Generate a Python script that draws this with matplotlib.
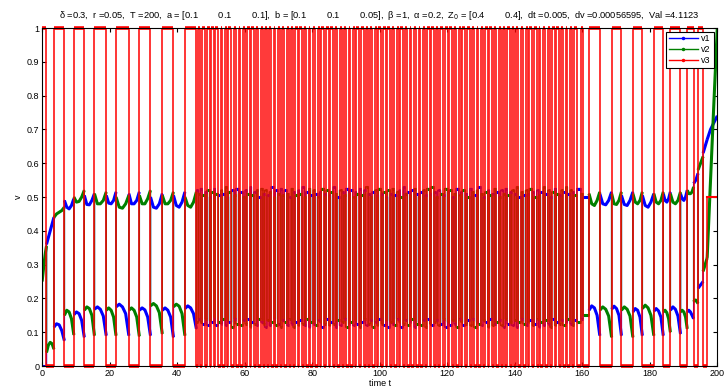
import numpy as np
import matplotlib
matplotlib.use("Agg")
import matplotlib.pyplot as plt
from matplotlib.lines import Line2D

plt.rcParams['font.family'] = ['Liberation Sans', 'DejaVu Sans']

######################## data ########################
# v3 = 1 on these time intervals, 0 in between
v3_on_early = [(0.0, 1.3), (3.5, 6.6), (9.4, 12.5), (15.5, 19.0), (21.9, 25.7),
               (28.8, 32.1), (35.6, 38.9), (42.3, 45.7)]
v3_on_fast = [(46.3, 46.9), (47.4, 48.3), (48.8, 49.6), (50.1, 50.9), (51.3, 52.2),
              (52.9, 53.4), (54.3, 54.8), (55.2, 56.1), (56.9, 57.3), (58.2, 58.6),
              (59.5, 60.1), (60.6, 61.6), (62.0, 62.7), (63.5, 63.9), (64.8, 65.4),
              (65.9, 66.6), (67.3, 67.8), (68.7, 69.1), (69.8, 70.6), (71.1, 71.7),
              (72.5, 73.0), (73.8, 74.3), (74.9, 75.8), (76.2, 77.0), (77.7, 78.1),
              (79.0, 79.5), (80.3, 80.8), (81.6, 82.2), (82.7, 83.6), (84.1, 84.9),
              (85.4, 86.2), (86.9, 87.3), (88.1, 88.8), (89.4, 89.9), (90.8, 91.2),
              (92.0, 92.7), (93.1, 94.0), (94.5, 95.3), (95.8, 96.6), (97.2, 97.7),
              (98.5, 99.2), (99.6, 100.5), (101.0, 101.8), (102.3, 103.1), (103.7, 104.2),
              (105.0, 105.7), (106.1, 107.0), (107.5, 108.2), (108.9, 109.3), (110.2, 110.7),
              (111.5, 112.0), (112.8, 113.4), (113.9, 114.8), (115.2, 116.1), (116.7, 117.2),
              (118.0, 118.8), (119.2, 120.1), (120.6, 121.4), (122.0, 122.6), (123.4, 124.0),
              (124.5, 125.4), (125.9, 126.7), (127.3, 127.8), (128.7, 129.2), (130.0, 130.6),
              (131.1, 132.0), (132.5, 133.3), (133.9, 134.4), (135.3, 135.8), (136.6, 137.2),
              (137.7, 138.6), (139.1, 139.9), (140.5, 141.0), (141.9, 142.4), (143.2, 143.8),
              (144.3, 145.2), (145.7, 146.5), (147.1, 147.6), (148.5, 149.0), (149.8, 150.4),
              (150.9, 151.8), (152.3, 153.1), (153.7, 154.2), (155.1, 155.6), (156.4, 157.0),
              (157.5, 158.4), (159.6, 160.2)]
v3_on_late = [(162.0, 165.2), (168.7, 171.6), (175.0, 177.8), (181.2, 184.0),
              (186.1, 189.1), (191.1, 193.0), (194.3, 195.8)]
v3_start = 0.0
t_last_switch = 197.0
v3_final = 0.5
t_max = 200.0

# lower band / upper band values inside each segment between switches
low_early = [[0.0, 0.0, 0.0, 0.0, 0.0],
             [0.04, 0.062, 0.07, 0.066, 0.05],
             [0.115, 0.125, 0.122, 0.105, 0.075],
             [0.15, 0.165, 0.16, 0.14, 0.092],
             [0.152, 0.16, 0.155, 0.135, 0.085],
             [0.165, 0.175, 0.17, 0.15, 0.09],
             [0.168, 0.175, 0.168, 0.148, 0.09],
             [0.165, 0.172, 0.165, 0.145, 0.09],
             [0.175, 0.183, 0.175, 0.155, 0.09],
             [0.165, 0.172, 0.165, 0.145, 0.088],
             [0.165, 0.172, 0.166, 0.145, 0.09],
             [0.178, 0.185, 0.178, 0.158, 0.095],
             [0.165, 0.172, 0.165, 0.145, 0.085],
             [0.175, 0.183, 0.177, 0.155, 0.09],
             [0.17, 0.178, 0.172, 0.155, 0.11]]
high_early = [[0.25, 0.28, 0.31, 0.335, 0.355],
              [0.36, 0.38, 0.40, 0.42, 0.44],
              [0.44, 0.45, 0.455, 0.46, 0.47],
              [0.49, 0.47, 0.465, 0.475, 0.495],
              [0.5, 0.485, 0.487, 0.5, 0.52],
              [0.505, 0.478, 0.477, 0.49, 0.51],
              [0.51, 0.48, 0.48, 0.49, 0.515],
              [0.505, 0.482, 0.48, 0.49, 0.515],
              [0.5, 0.47, 0.467, 0.48, 0.505],
              [0.51, 0.48, 0.48, 0.49, 0.515],
              [0.505, 0.48, 0.48, 0.495, 0.52],
              [0.5, 0.47, 0.467, 0.48, 0.51],
              [0.505, 0.48, 0.48, 0.49, 0.515],
              [0.505, 0.475, 0.47, 0.485, 0.515],
              [0.5, 0.475, 0.47, 0.485, 0.515]]
low_fast = [0.13, 0.14, 0.13, 0.125, 0.14, 0.12, 0.135, 0.13, 0.145, 0.12,
            0.13, 0.125, 0.14, 0.12, 0.135, 0.13, 0.115, 0.14, 0.125, 0.13,
            0.12, 0.135, 0.125, 0.14, 0.115, 0.13, 0.125, 0.12, 0.14, 0.13,
            0.125, 0.115, 0.135, 0.12, 0.13, 0.14, 0.12, 0.125, 0.115, 0.135,
            0.13, 0.12, 0.14, 0.125, 0.115, 0.13, 0.12, 0.135, 0.125, 0.12,
            0.14, 0.115, 0.13, 0.125, 0.12, 0.135, 0.13, 0.115, 0.125, 0.14,
            0.12, 0.13, 0.125, 0.115, 0.135, 0.12, 0.13, 0.14, 0.115, 0.125,
            0.13, 0.12, 0.135, 0.125, 0.115, 0.13, 0.14, 0.12, 0.125, 0.135,
            0.115, 0.13, 0.12, 0.14, 0.125, 0.12, 0.135, 0.115, 0.13, 0.125,
            0.12, 0.14, 0.13, 0.115, 0.125, 0.135, 0.12, 0.13, 0.14, 0.115,
            0.125, 0.13, 0.12, 0.135, 0.115, 0.14, 0.125, 0.12, 0.13, 0.135,
            0.12, 0.125, 0.14, 0.115, 0.13, 0.12, 0.135, 0.125, 0.115, 0.14,
            0.13, 0.12, 0.125, 0.135, 0.12, 0.14, 0.115, 0.13, 0.125, 0.12,
            0.135, 0.13, 0.115, 0.14, 0.12, 0.125, 0.13, 0.135, 0.12, 0.115,
            0.14, 0.125, 0.13, 0.12, 0.135, 0.115, 0.13, 0.14, 0.125, 0.12,
            0.13, 0.135, 0.12, 0.125, 0.14, 0.115, 0.13, 0.12, 0.135, 0.125,
            0.115, 0.14, 0.12, 0.13, 0.125, 0.135, 0.12, 0.13, 0.14, 0.125,
            0.12, 0.135, 0.13, 0.14, 0.15]
high_fast = [0.52, 0.51, 0.525, 0.505, 0.515, 0.52, 0.5, 0.515, 0.525, 0.51,
             0.505, 0.52, 0.51, 0.53, 0.5, 0.515, 0.52, 0.505, 0.525, 0.51,
             0.515, 0.5, 0.52, 0.51, 0.53, 0.505, 0.515, 0.52, 0.5, 0.525,
             0.51, 0.52, 0.505, 0.515, 0.53, 0.5, 0.52, 0.51, 0.525, 0.505,
             0.52, 0.51, 0.5, 0.525, 0.515, 0.505, 0.52, 0.51, 0.53, 0.5,
             0.515, 0.525, 0.505, 0.52, 0.51, 0.5, 0.515, 0.525, 0.51, 0.52,
             0.505, 0.515, 0.53, 0.51, 0.5, 0.52, 0.515, 0.505, 0.525, 0.51,
             0.52, 0.5, 0.515, 0.51, 0.525, 0.505, 0.52, 0.53, 0.51, 0.5,
             0.515, 0.52, 0.505, 0.525, 0.51, 0.515, 0.5, 0.52, 0.51, 0.525,
             0.505, 0.515, 0.52, 0.5, 0.53, 0.51, 0.515, 0.505, 0.52, 0.525,
             0.51, 0.5, 0.515, 0.52, 0.505, 0.525, 0.51, 0.53, 0.515, 0.5,
             0.52, 0.51, 0.505, 0.525, 0.515, 0.52, 0.5, 0.51, 0.525, 0.505,
             0.515, 0.52, 0.51, 0.5, 0.525, 0.515, 0.505, 0.52, 0.53, 0.51,
             0.5, 0.515, 0.52, 0.505, 0.51, 0.525, 0.515, 0.5, 0.52, 0.51,
             0.525, 0.505, 0.515, 0.52, 0.51, 0.53, 0.5, 0.515, 0.505, 0.52,
             0.51, 0.525, 0.515, 0.5, 0.52, 0.505, 0.515, 0.53, 0.51, 0.52,
             0.5, 0.515, 0.525, 0.51, 0.505, 0.52, 0.515, 0.53, 0.51, 0.52,
             0.515, 0.505, 0.525, 0.51, 0.5]
low_late = [[0.165, 0.178, 0.172, 0.15, 0.09],
            [0.165, 0.175, 0.168, 0.148, 0.085],
            [0.168, 0.177, 0.17, 0.15, 0.09],
            [0.165, 0.175, 0.168, 0.148, 0.085],
            [0.16, 0.17, 0.165, 0.145, 0.09],
            [0.17, 0.18, 0.172, 0.15, 0.09],
            [0.162, 0.17, 0.163, 0.145, 0.09],
            [0.16, 0.165, 0.158, 0.14, 0.1],
            [0.165, 0.175, 0.168, 0.148, 0.095],
            [0.16, 0.165, 0.16, 0.145, 0.11],
            [0.16, 0.165, 0.16, 0.15, 0.14],
            [0.19, 0.195, 0.195, 0.19, 0.185],
            [0.23, 0.235, 0.24, 0.245, 0.25],
            [0.28, 0.29, 0.3, 0.31, 0.32]]
high_late = [[0.51, 0.48, 0.475, 0.49, 0.515],
             [0.51, 0.48, 0.477, 0.49, 0.515],
             [0.51, 0.48, 0.478, 0.49, 0.515],
             [0.505, 0.478, 0.475, 0.49, 0.515],
             [0.51, 0.485, 0.48, 0.49, 0.515],
             [0.505, 0.475, 0.47, 0.485, 0.51],
             [0.51, 0.485, 0.48, 0.49, 0.515],
             [0.51, 0.49, 0.485, 0.495, 0.515],
             [0.51, 0.485, 0.48, 0.49, 0.515],
             [0.51, 0.495, 0.49, 0.5, 0.52],
             [0.52, 0.51, 0.51, 0.515, 0.53],
             [0.54, 0.545, 0.55, 0.56, 0.57],
             [0.58, 0.59, 0.6, 0.61, 0.62],
             [0.63, 0.64, 0.65, 0.66, 0.67]]
# last piece after the final switch
v1_final = [0.67, 0.7, 0.72, 0.74]
v2_final = [0.32, 0.55, 0.78, 1.0]

title_txt = ("δ =0.3,  r =0.05,  T =200,  a = [0.1        0.1        0.1],  "
             "b = [0.1        0.1        0.05],  β =1,  α =0.2,  Z$_0$ = [0.4        0.4],  "
             "dt =0.005,  dv =0.00056595,  Val =4.1123")
######################################################


def main():
    on_all = v3_on_early + v3_on_fast + v3_on_late
    bounds = [0.0]
    for a, b in on_all:
        if a > bounds[-1]:
            bounds.append(a)
        bounds.append(b)
    bounds.append(t_last_switch)

    low_vals = low_early + [[v] for v in low_fast] + low_late
    high_vals = high_early + [[v] for v in high_fast] + high_late

    v1_t, v1_v, v2_t, v2_v = [], [], [], []
    v1_segs, v2_segs = [], []
    for k in range(len(bounds) - 1):
        t0, t1 = bounds[k], bounds[k + 1]
        lo, hi = low_vals[k], high_vals[k]
        if len(lo) == 1:
            ts = [t0, t1]
            lo = [lo[0], lo[0]]
            hi = [hi[0], hi[0]]
        else:
            ts = list(np.linspace(t0, t1, len(lo)))
        if k % 2 == 0:   # v3 high -> v1 in lower band
            a, b = lo, hi
        else:
            a, b = hi, lo
        v1_t += ts; v1_v += list(a)
        v2_t += ts; v2_v += list(b)
        v1_segs.append((ts, a))
        v2_segs.append((ts, b))
    tf = list(np.linspace(t_last_switch, t_max, len(v1_final)))
    v1_t += tf; v1_v += v1_final
    v2_t += tf; v2_v += v2_final
    v1_segs.append((tf, v1_final))
    v2_segs.append((tf, v2_final))

    # v3 step curve
    v3_t, v3_v = [0.0], [v3_start]
    flats = []
    state = 1.0
    for k in range(len(bounds) - 1):
        v3_t += [bounds[k], bounds[k + 1]]
        v3_v += [state, state]
        flats.append(([bounds[k], bounds[k + 1]], [state, state]))
        state = 1.0 - state
    v3_t += [t_last_switch, t_max]
    v3_v += [v3_final, v3_final]

    fig = plt.figure(figsize=(7.26, 3.89), dpi=100)
    ax = fig.add_axes([0.058, 0.059, 0.930, 0.869])

    blue = (0, 0, 1)
    green = (0, 0.5, 0)
    red = (1, 0, 0)

    ax.plot(v1_t, v1_v, color=blue, lw=1.0)
    ax.plot(v2_t, v2_v, color=green, lw=1.0)
    for ts, vs in v1_segs:
        ax.plot(ts, vs, color=blue, lw=2.2, solid_capstyle='butt')
    for ts, vs in v2_segs:
        ax.plot(ts, vs, color=green, lw=2.2, solid_capstyle='butt')

    ax.plot(v3_t, v3_v, color=red, lw=1.3, alpha=0.85)
    # thick flat parts (markers in the original)
    for ts, vs in flats:
        ax.plot(ts, vs, color=red, lw=2.6, solid_capstyle='butt', clip_on=False)
    ax.plot(v3_t[-2:], v3_v[-2:], color=red, lw=1.5)

    ax.set_xlim(0, 200)
    ax.set_ylim(0, 1)
    ax.set_xticks(np.arange(0, 201, 20))
    ax.set_yticks(np.arange(0, 1.01, 0.1))
    ax.set_yticklabels(['0', '0.1', '0.2', '0.3', '0.4', '0.5', '0.6', '0.7', '0.8', '0.9', '1'])
    ax.tick_params(direction='in', length=3, width=0.8, labelsize=6.5,
                   top=True, right=True, pad=2)
    for s in ax.spines.values():
        s.set_linewidth(0.8)
        s.set_zorder(5)

    ax.set_xlabel('time t', fontsize=6.5, labelpad=1)
    ax.set_ylabel('v', fontsize=6.5, labelpad=3)
    ax.set_title(title_txt, fontsize=6.7, pad=7)

    handles = [Line2D([], [], color=blue, lw=1, marker='.', markersize=3),
               Line2D([], [], color=green, lw=1, marker='.', markersize=3),
               Line2D([], [], color=red, lw=1, marker='.', markersize=3)]
    leg = ax.legend(handles, ['v1', 'v2', 'v3'], loc='upper right', fontsize=6.5,
                    fancybox=False, framealpha=1, edgecolor='black',
                    handlelength=3.2, borderpad=0.3, labelspacing=0.2,
                    borderaxespad=0.4, handletextpad=0.4)
    leg.get_frame().set_linewidth(0.8)
    leg.set_zorder(10)

    fig.savefig('out.png', dpi=100)


if __name__ == "__main__":
    main()
